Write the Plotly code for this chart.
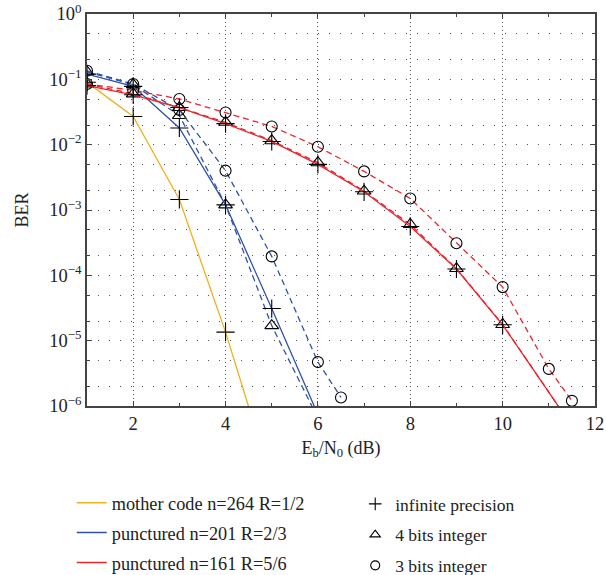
import plotly.graph_objects as go

# Eb/N0 (dB) sample points
ebn0_mother = [1, 2, 3, 4, 5]
ebn0_r23 = [1, 2, 3, 4, 5, 6]
ebn0_r23_q3 = [1, 2, 3, 4, 5, 6, 6.5]
ebn0_r56 = [1, 2, 3, 4, 5, 6, 7, 8, 9, 10, 12]
ebn0_r56_q3 = [1, 2, 3, 4, 5, 6, 7, 8, 9, 10, 11, 11.5]

# BER, mother code n=264 R=1/2 (infinite precision)
ber_mother_inf = [0.09, 0.027, 1.45e-3, 1.35e-5, 7e-8]

# BER, punctured n=201 R=2/3
ber_r23_inf = [0.12, 0.078, 0.018, 1.2e-3, 3.1e-5, 7.4e-7]
ber_r23_q4 = [0.13, 0.083, 0.028, 1.2e-3, 1.7e-5, 6.5e-7]
ber_r23_q3 = [0.135, 0.085, 0.034, 4.0e-3, 1.95e-4, 4.7e-6, 1.35e-6]

# BER, punctured n=161 R=5/6
ber_r56_inf = [0.08, 0.058, 0.037, 0.021, 0.0112, 5.0e-3, 1.9e-3, 5.6e-4, 1.25e-4, 1.75e-5, 1.5e-7]
ber_r56_q4 = [0.085, 0.06, 0.037, 0.022, 0.0115, 5.3e-3, 1.95e-3, 6.0e-4, 1.27e-4, 1.77e-5, 1.5e-7]
ber_r56_q3 = [0.085, 0.068, 0.05, 0.031, 0.019, 9.3e-3, 3.9e-3, 1.5e-3, 3.1e-4, 6.6e-5, 3.7e-6, 1.2e-6]

code_names = ["mother code n=264 R=1/2", "punctured n=201 R=2/3", "punctured n=161 R=5/6"]
precision_names = ["infinite precision", "4 bits integer", "3 bits integer"]

x_tickvals = [2, 4, 6, 8, 10, 12]
y_tickvals = [1, 1e-1, 1e-2, 1e-3, 1e-4, 1e-5, 1e-6]
y_ticktext = ["10<sup>0</sup>", "10<sup>\u22121</sup>", "10<sup>\u22122</sup>", "10<sup>\u22123</sup>",
              "10<sup>\u22124</sup>", "10<sup>\u22125</sup>", "10<sup>\u22126</sup>"]

YELLOW = "#EDB120"
BLUE = "#2F52A6"
RED = "#E8262E"
FONT = "Liberation Serif"
TEXT = "#222222"

symbols = {"inf": "cross-thin-open", "q4": "triangle-up-open", "q3": "circle-open"}
marker_sizes = {"inf": 13, "q4": 12, "q3": 11}

fig = go.Figure()


def add_curve(x, y, color, kind, dash):
    fig.add_trace(go.Scatter(
        x=x, y=y, mode="lines+markers",
        line=dict(color=color, width=1.3, dash=dash),
        marker=dict(symbol=symbols[kind], size=marker_sizes[kind], color="black",
                    line=dict(color="black", width=1.1)),
        showlegend=False, hoverinfo="x+y",
    ))


add_curve(ebn0_mother, ber_mother_inf, YELLOW, "inf", "solid")

add_curve(ebn0_r23, ber_r23_q4, BLUE, "q4", "6px,4px")
add_curve(ebn0_r23_q3, ber_r23_q3, BLUE, "q3", "6px,4px")
add_curve(ebn0_r23, ber_r23_inf, BLUE, "inf", "solid")

add_curve(ebn0_r56, ber_r56_q4, RED, "q4", "6px,4px")
add_curve(ebn0_r56_q3, ber_r56_q3, RED, "q3", "6px,4px")
add_curve(ebn0_r56, ber_r56_inf, RED, "inf", "solid")

# legend: line colour per code
for i, (name, color) in enumerate(zip(code_names, [YELLOW, BLUE, RED])):
    fig.add_trace(go.Scatter(
        x=[None], y=[None], mode="lines", name=name,
        line=dict(color=color, width=1.5),
        legend="legend", legendgroup="c%d" % i,
    ))

# legend: marker per quantisation
for i, (name, kind) in enumerate(zip(precision_names, ["inf", "q4", "q3"])):
    fig.add_trace(go.Scatter(
        x=[None], y=[None], mode="markers", name=name,
        marker=dict(symbol=symbols[kind], size=9, color="black",
                    line=dict(color="black", width=1.1)),
        legend="legend2", legendgroup="p%d" % i,
    ))

axis_common = dict(
    showline=True, linecolor="#444444", linewidth=1.5, mirror="ticks",
    ticks="inside", tickcolor="#444444", ticklen=5,
    gridcolor="#555555", zeroline=False,
    tickfont=dict(family=FONT, size=18.5, color=TEXT),
)

fig.update_xaxes(
    range=[1, 12], tickvals=x_tickvals,
    showgrid=True, griddash="1px,3px", gridwidth=1,
    title=dict(text="E<sub>b</sub>/N<sub>0</sub> (dB)", font=dict(family=FONT, size=18, color=TEXT),
               standoff=8),
    minor=dict(tickvals=[3, 5, 7, 9, 11], ticks="inside", ticklen=3, tickcolor="#444444",
               showgrid=False),
    **axis_common,
)

fig.update_yaxes(
    type="log", range=[-6, 0], tickvals=y_tickvals, ticktext=y_ticktext,
    showgrid=True, griddash="1px,10px", gridwidth=1,
    title=dict(text="BER", font=dict(family=FONT, size=18, color=TEXT), standoff=16),
    minor=dict(ticks="inside", ticklen=3, tickcolor="#444444",
               showgrid=True, gridcolor="#555555", griddash="1px,10px", gridwidth=1),
    **axis_common,
)

legend_common = dict(
    bgcolor="rgba(0,0,0,0)", orientation="v",
    xref="paper", yref="paper", xanchor="left", yanchor="top",
    itemwidth=30,
)

fig.update_layout(
    width=606, height=575,
    margin=dict(l=87, r=11, t=14, b=169, autoexpand=False),
    plot_bgcolor="white", paper_bgcolor="white",
    font=dict(family=FONT, size=17, color=TEXT),
    legend=dict(x=-0.03, y=-0.2, tracegroupgap=3,
                font=dict(family=FONT, size=18.3, color=TEXT), **legend_common),
    legend2=dict(x=0.528, y=-0.204, tracegroupgap=5,
                 font=dict(family=FONT, size=17.5, color=TEXT), **legend_common),
)

fig.write_html("out.html")
